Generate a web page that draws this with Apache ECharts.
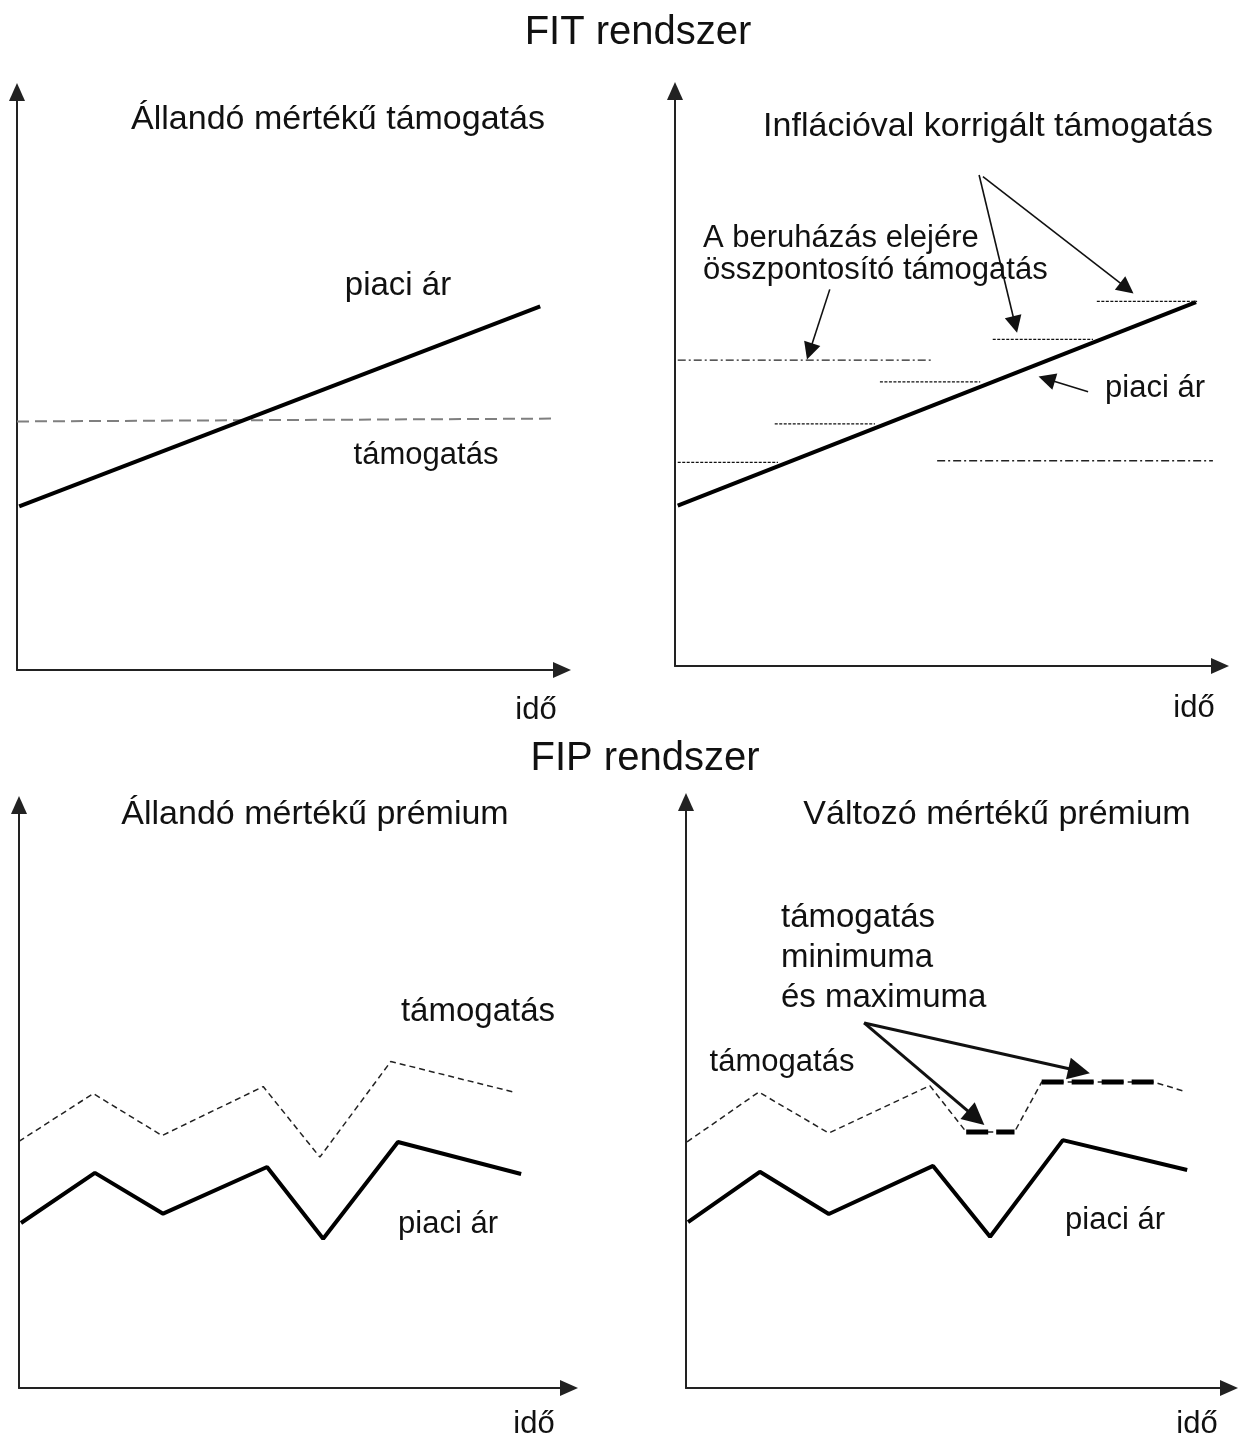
<!DOCTYPE html>
<html>
<head>
<meta charset="utf-8">
<title>FIT és FIP rendszer</title>
<script src="https://cdn.jsdelivr.net/npm/echarts@6/dist/echarts.min.js"></script>
<style>
  html, body { margin: 0; padding: 0; background: #fff; }
  #chart { width: 1240px; height: 1438px; }
</style>
</head>
<body>
<div id="chart"></div>
<script>
// idő (x) és ár (y), mindkettő 0..100 egységben panelenként

// FIT - állandó mértékű támogatás
var fitFlatPrice = [[0.4, 28.3], [96, 62.9]];
var fitFlatSupport = [[0, 43.0], [99, 43.5]];

// FIT - inflációval korrigált / elejére összpontosító
var fitIndexPrice = [[0.5, 27.9], [95.6, 63.3]];
var stepFrom = [0.5, 18.3, 37.6, 58.3, 77.4];
var stepTo = [18.9, 36.7, 56, 76.7, 95.8];
var stepLevel = [35.4, 42.1, 49.4, 56.8, 63.4];
var frontFrom = [0.5, 48.1];
var frontTo = [47.3, 98.7];
var frontLevel = [53.2, 35.7];
var fitArrows = [
  [[28.4, 65.5], [24.7, 54.7]],
  [[55.8, 85.4], [62.4, 59.4]],
  [[56.5, 85.1], [82.9, 65.7]],
  [[75.8, 47.7], [68.2, 49.9]]
];

// FIP - állandó mértékű prémium
var fipTime = [0.36, 13.8, 26.2, 45.1, 55.3, 68.9, 91.3];
var fipPrice = [28.3, 36.9, 29.9, 37.9, 25.6, 42.2, 36.7];
var fipSupportTime = [0, 13.5, 26, 44.4, 54.7, 67.6, 90.2];
var fipSupport = [42.3, 50.5, 43.3, 51.7, 39.6, 56, 50.7];

// FIP - változó mértékű prémium
var varTime = [0.37, 13.6, 26.3, 45.5, 56, 69.4, 92.3];
var varPrice = [28.3, 36.9, 29.7, 37.9, 25.8, 42.3, 37.2];
var varSupportTime = [0.2, 13.4, 26.3, 44.9, 51.6, 60.5, 65.5, 86.2, 91.5];
var varSupport = [42.0, 50.5, 43.5, 51.6, 43.7, 43.7, 52.2, 52.2, 50.7];
var capMin = [[51.6, 43.7], [60.5, 43.7]];
var capMax = [[65.5, 52.2], [86.2, 52.2]];
var varArrows = [
  [[32.8, 62.3], [53.4, 46.1]],
  [[32.8, 62.3], [72.4, 54.1]]
];

function zip(xs, ys) {
  return xs.map(function (x, i) { return [x, ys[i]]; });
}

var chart = echarts.init(document.getElementById('chart'));

var FONT = '"Liberation Sans", Arial, sans-serif';

function axis(i) {
  return {
    type: 'value', gridIndex: i, min: 0, max: 100,
    axisLine: {
      show: true, onZero: false,
      symbol: ['none', 'triangle'], symbolSize: [16, 18],
      lineStyle: { color: '#222', width: 2 }
    },
    axisTick: { show: false },
    axisLabel: { show: false },
    splitLine: { show: false }
  };
}

function line(g, data, style) {
  return {
    type: 'line', xAxisIndex: g, yAxisIndex: g, data: data,
    symbol: 'none', silent: true, lineStyle: style
  };
}

function arrows(g, list, width, size) {
  return {
    type: 'lines', coordinateSystem: 'cartesian2d', xAxisIndex: g, yAxisIndex: g,
    symbol: ['none', 'triangle'], symbolSize: size, silent: true, z: 5,
    lineStyle: { color: '#111', width: width, opacity: 1, curveness: 0 },
    data: list.map(function (c) { return { coords: c }; })
  };
}

function txt(s, x, y, size, align) {
  return {
    type: 'text', x: x, y: y, z: 100,
    style: {
      text: s, font: size + 'px ' + FONT, fill: '#111',
      align: align || 'center', verticalAlign: 'middle',
      textAlign: align || 'center', textVerticalAlign: 'middle'
    }
  };
}

var priceStyle = { color: '#000', width: 4 };
var stepStyle = { color: '#111', width: 1.3, type: [3, 1.5] };
var frontStyle = { color: '#222', width: 1.3, type: [8, 3, 2, 3] };
var thinDash = { color: '#222', width: 1.5, type: [6, 4] };

var series = [
  line(0, fitFlatSupport, { color: '#7f7f7f', width: 2, type: [12, 6] }),
  line(0, fitFlatPrice, priceStyle),
  line(1, fitIndexPrice, priceStyle)
];
stepLevel.forEach(function (v, i) {
  series.push(line(1, [[stepFrom[i], v], [stepTo[i], v]], stepStyle));
});
frontLevel.forEach(function (v, i) {
  series.push(line(1, [[frontFrom[i], v], [frontTo[i], v]], frontStyle));
});
series.push(arrows(1, fitArrows, 1.6, 17));
series.push(line(2, zip(fipSupportTime, fipSupport), thinDash));
series.push(line(2, zip(fipTime, fipPrice), priceStyle));
series.push(line(3, zip(varSupportTime, varSupport), thinDash));
series.push(line(3, capMin, { color: '#000', width: 5, type: [22, 8] }));
series.push(line(3, capMax, { color: '#000', width: 5, type: [22, 8] }));
series.push(line(3, zip(varTime, varPrice), priceStyle));
series.push(arrows(3, varArrows, 3, 22));

chart.setOption({
  backgroundColor: '#fff',
  animation: false,
  grid: [
    { left: 17, top: 92, width: 545, height: 578 },
    { left: 675, top: 91, width: 545, height: 575 },
    { left: 19, top: 805, width: 550, height: 583 },
    { left: 686, top: 802, width: 543, height: 586 }
  ],
  xAxis: [axis(0), axis(1), axis(2), axis(3)],
  yAxis: [axis(0), axis(1), axis(2), axis(3)],
  series: series,
  graphic: [
    txt('FIT rendszer', 638, 33, 40),
    txt('Állandó mértékű támogatás', 338, 120, 34),
    txt('Inflációval korrigált támogatás', 988, 127, 34),
    txt('piaci ár', 398, 286, 33),
    txt('támogatás', 426, 455, 31),
    txt('idő', 536, 710, 31),
    txt('A beruházás elejére', 703, 238, 31, 'left'),
    txt('összpontosító támogatás', 703, 270, 31, 'left'),
    txt('piaci ár', 1155, 388, 31),
    txt('idő', 1194, 708, 31),
    txt('FIP rendszer', 645, 759, 40),
    txt('Állandó mértékű prémium', 315, 815, 34),
    txt('Változó mértékű prémium', 997, 815, 34),
    txt('támogatás', 478, 1012, 33),
    txt('piaci ár', 448, 1224, 31),
    txt('idő', 534, 1424, 31),
    txt('támogatás', 781, 918, 33, 'left'),
    txt('minimuma', 781, 958, 33, 'left'),
    txt('és maximuma', 781, 998, 33, 'left'),
    txt('támogatás', 782, 1062, 31),
    txt('piaci ár', 1115, 1220, 31),
    txt('idő', 1197, 1424, 31)
  ]
});
</script>
</body>
</html>
